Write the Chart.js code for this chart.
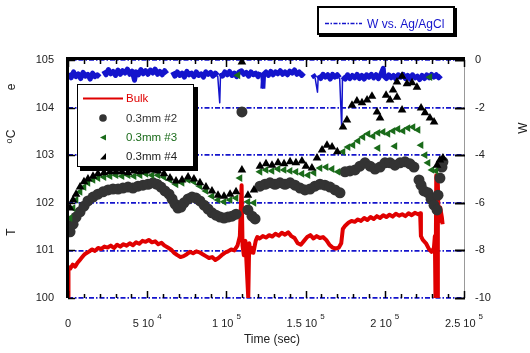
<!DOCTYPE html>
<html lang="en">
<head>
<meta charset="UTF-8">
<title>Temperature and W potential vs time</title>
<style>
  html, body { margin: 0; padding: 0; background: #fff; }
  #chart { display: block; }
</style>
</head>
<body>
<canvas id="chart" width="530" height="353"></canvas>
<script src="https://cdn.jsdelivr.net/npm/chart.js@4/dist/chart.umd.min.js"></script>
<script>
// time values are in units of 1000 sec
const bulkT = [0, 0.3, 1.5, 3, 4.5, 6, 7.5, 9, 10.5, 12, 13.5, 15, 17, 19, 21, 23, 25, 27, 29, 31, 33, 35, 37, 39, 41, 43, 45, 47, 49, 51, 53, 55, 57, 59, 61, 63, 65, 67, 69, 71, 73, 75, 77, 79, 81, 83, 85, 87, 89, 91, 93, 95, 97, 99, 101, 103, 105, 107, 108.5, 109.6, 110.2, 111, 112, 113.8, 114.4, 115.2, 116, 117, 118.5, 119.5, 121, 123, 125, 127, 129, 131, 133, 135, 137, 139, 141, 143, 145, 147, 149, 151, 153, 155, 157, 159, 161, 163, 165, 167, 169, 171, 172.5, 173.5, 175, 177, 179, 181, 183, 185, 187, 189, 191, 193, 195, 197, 199, 201, 203, 205, 207, 209, 211, 213, 215, 217, 219, 221, 222.3, 222.8, 224, 226, 228, 229.5, 231, 231.6, 232, 232.5, 233, 233.5, 234, 235, 236, 236.5];
const bulkV = [100.0, 100.65, 100.62, 100.70, 100.66, 100.74, 100.80, 100.86, 100.92, 100.95, 100.98, 101.02, 100.99, 101.05, 101.03, 101.08, 101.06, 101.10, 101.05, 101.12, 101.08, 101.13, 101.10, 101.15, 101.11, 101.17, 101.14, 101.20, 101.18, 101.22, 101.17, 101.19, 101.13, 101.16, 101.10, 101.06, 101.02, 100.95, 100.90, 100.86, 100.88, 100.92, 100.97, 100.94, 100.98, 100.96, 100.92, 100.88, 100.84, 100.86, 100.80, 100.84, 100.90, 100.95, 100.98, 101.02, 101.00, 101.10, 101.30, 102.37, 101.10, 100.90, 101.20, 100.0, 101.15, 100.95, 101.05, 100.95, 101.20, 101.28, 101.25, 101.30, 101.27, 101.32, 101.29, 101.35, 101.31, 101.37, 101.33, 101.38, 101.30, 101.26, 101.15, 101.12, 101.20, 101.28, 101.32, 101.25, 101.30, 101.26, 101.28, 101.22, 101.12, 101.06, 101.04, 101.06, 101.15, 101.45, 101.52, 101.58, 101.62, 101.60, 101.65, 101.62, 101.68, 101.64, 101.70, 101.66, 101.72, 101.68, 101.74, 101.70, 101.75, 101.71, 101.77, 101.73, 101.76, 101.72, 101.78, 101.74, 101.79, 101.76, 101.78, 101.30, 101.22, 101.15, 101.02, 100.97, 101.05, 101.30, 100.0, 102.58, 100.0, 102.40, 101.60, 101.90, 101.70, 101.55];

const mm2T = [1.3, 3.2, 5.1, 7.6, 10.1, 12.6, 15.8, 18.9, 22.1, 25.3, 28.4, 31.6, 34.7, 37.9, 41.0, 44.2, 47.3, 50.5, 53.7, 56.2, 58.7, 61.2, 63.8, 65.7, 67.6, 69.4, 71.3, 73.2, 75.8, 78.3, 80.8, 83.3, 85.9, 88.4, 90.9, 93.4, 96.0, 98.5, 101.0, 103.5, 106.1, 109.8, 113.6, 116.2, 118.1, 121.2, 124.4, 127.5, 130.7, 133.8, 137.0, 140.2, 143.3, 146.5, 149.6, 152.8, 155.9, 159.1, 162.2, 165.4, 168.6, 171.7, 174.9, 178.0, 181.2, 184.3, 187.5, 190.7, 193.8, 197.0, 200.1, 203.3, 206.4, 209.6, 212.8, 215.9, 218.4, 221.6, 222.9, 224.7, 227.3, 229.2, 231.1, 233.0, 233.6, 234.8, 236.1, 236.7];
const mm2V = [101.39, 101.55, 101.70, 101.81, 101.93, 102.04, 102.12, 102.18, 102.23, 102.27, 102.29, 102.29, 102.31, 102.33, 102.31, 102.35, 102.37, 102.39, 102.42, 102.39, 102.33, 102.25, 102.18, 102.08, 101.97, 101.89, 101.91, 102.00, 102.08, 102.12, 102.10, 102.04, 101.95, 101.87, 101.79, 101.74, 101.70, 101.68, 101.70, 101.72, 101.76, 103.91, 101.85, 101.72, 101.66, 102.35, 102.39, 102.42, 102.39, 102.42, 102.39, 102.42, 102.37, 102.31, 102.27, 102.29, 102.35, 102.39, 102.37, 102.33, 102.27, 102.21, 102.65, 102.67, 102.69, 102.77, 102.84, 102.77, 102.71, 102.75, 102.84, 102.84, 102.79, 102.84, 102.86, 102.82, 102.75, 102.48, 102.37, 102.25, 102.21, 102.08, 101.95, 101.85, 102.16, 102.52, 102.75, 102.86];

const mm3T = [1.3, 3.2, 5.1, 7.6, 10.1, 12.6, 15.8, 18.9, 22.7, 26.5, 30.3, 34.1, 37.9, 41.7, 45.5, 49.2, 53.0, 56.8, 60.6, 64.4, 68.2, 72.0, 75.8, 79.5, 83.3, 87.1, 90.9, 94.7, 98.5, 102.3, 106.1, 107.3, 108.6, 113.6, 117.4, 121.2, 125.0, 128.8, 132.6, 136.4, 140.2, 143.9, 147.7, 151.5, 155.3, 159.1, 162.9, 166.7, 170.5, 173.6, 176.8, 179.9, 183.1, 186.2, 189.4, 192.6, 195.7, 195.7, 198.9, 202.0, 205.2, 206.4, 208.3, 211.5, 214.6, 217.8, 221.0, 222.9, 225.4, 227.3, 228.5, 229.8, 232.3];
const mm3V = [101.68, 101.89, 102.06, 102.23, 102.33, 102.42, 102.48, 102.52, 102.54, 102.56, 102.58, 102.56, 102.58, 102.56, 102.58, 102.61, 102.58, 102.58, 102.54, 102.48, 102.39, 102.42, 102.48, 102.44, 102.35, 102.25, 102.14, 102.06, 102.02, 102.06, 102.10, 104.68, 102.52, 102.02, 102.00, 102.65, 102.69, 102.67, 102.71, 102.69, 102.67, 102.65, 102.61, 102.58, 102.63, 102.73, 102.75, 102.71, 102.65, 103.07, 103.17, 103.21, 103.30, 103.38, 103.45, 103.40, 103.47, 103.15, 103.49, 103.45, 103.51, 103.19, 103.55, 103.51, 103.57, 103.59, 103.53, 103.21, 103.00, 102.84, 104.64, 102.69, 102.67];

const mm4T = [1.3, 3.2, 5.1, 7.6, 10.1, 12.6, 15.8, 18.9, 22.7, 26.5, 30.3, 34.1, 37.9, 41.7, 45.5, 49.2, 53.0, 56.8, 60.6, 64.4, 68.2, 72.0, 75.8, 79.5, 83.3, 87.1, 90.9, 94.7, 98.5, 102.3, 106.1, 109.8, 109.8, 113.6, 117.4, 121.2, 125.0, 128.8, 132.6, 136.4, 140.2, 143.9, 147.7, 150.2, 154.0, 157.2, 160.4, 163.5, 166.7, 170.0, 173.6, 176.1, 179.3, 182.4, 185.6, 188.8, 191.9, 195.1, 197.0, 200.8, 203.3, 205.2, 207.7, 207.7, 210.9, 210.9, 214.0, 217.2, 220.3, 222.9, 225.4, 228.5, 231.1, 233.0, 234.8, 236.7];
const mm4V = [101.89, 102.06, 102.18, 102.33, 102.44, 102.50, 102.56, 102.61, 102.63, 102.65, 102.65, 102.65, 102.63, 102.67, 102.65, 102.67, 102.69, 102.67, 102.61, 102.52, 102.46, 102.48, 102.54, 102.50, 102.42, 102.33, 102.25, 102.16, 102.14, 102.18, 102.23, 102.69, 104.96, 102.16, 102.27, 102.77, 102.82, 102.79, 102.84, 102.82, 102.86, 102.84, 102.88, 102.77, 102.73, 102.94, 103.11, 103.21, 103.17, 103.07, 103.59, 103.74, 104.05, 104.14, 104.10, 104.16, 104.24, 103.91, 103.78, 104.26, 104.16, 104.37, 104.54, 104.22, 104.66, 103.95, 104.50, 104.52, 104.43, 103.99, 103.89, 103.78, 103.70, 102.79, 102.90, 102.94];

const wT = [0.5, 2, 3.5, 5, 6.5, 8, 9.5, 11, 12.5, 14, 15.5, 17, 18.5, 20, 21, 22.5, 24, 25.5, 27, 28.5, 30, 31.5, 33, 34.5, 36, 37.5, 39, 40.5, 42, 43, 44.5, 46, 47.5, 49, 50.5, 52, 53.5, 55, 56.5, 58, 59.5, 61, 62.5, 64, 66, 67.5, 69, 70.5, 72, 73.5, 75, 76.5, 78, 79.5, 81, 82.5, 84, 85.5, 87, 88.5, 90, 91.5, 93, 94.5, 95.8, 96.3, 97.5, 99, 100.5, 102, 103.5, 105, 106.5, 108, 109.5, 111, 112.5, 114, 115.5, 117, 118.5, 120, 121.5, 123, 123.5, 125, 126.5, 128, 129.5, 131, 132.5, 134, 135.5, 137, 138.5, 140, 141.5, 143, 144.5, 146, 147.5, 149, 151, 154.5, 156, 157.5, 158, 159.5, 161, 162.5, 164, 165.5, 167, 168.5, 170, 171.5, 172.8, 173.3, 175, 176.5, 178, 179.5, 181, 182.5, 184, 185.5, 187, 188.5, 190, 191.5, 193, 194.5, 196, 197.5, 199, 199.5, 201, 202.5, 204, 205.5, 207, 208.5, 210, 211.5, 213, 214.5, 216, 217.5, 219, 220.5, 222, 223.5, 225, 226.5, 228, 229.5, 231, 232.5, 234, 235.5];
const wV = [-0.55, -0.75, -0.50, -0.70, -0.58, -0.78, -0.52, -0.68, -0.60, -0.80, -0.55, -0.70, -0.62, -0.72, null, -0.45, -0.62, -0.40, -0.58, -0.48, -0.65, -0.42, -0.60, -0.45, -0.55, -0.38, -0.60, -0.47, -0.85, -0.50, -0.62, -0.40, -0.58, -0.45, -0.60, -0.42, -0.55, -0.38, -0.60, -0.48, -0.62, -0.45, -0.58, null, -0.50, -0.68, -0.50, -0.65, -0.55, -0.72, -0.48, -0.62, -0.55, -0.70, -0.50, -0.65, -0.58, -0.72, -0.50, -0.60, -0.52, -0.68, -0.55, -0.65, -1.80, -0.55, -0.68, -0.50, -0.62, -0.48, -0.65, -0.55, -0.70, -0.50, -0.45, -0.60, -0.52, -0.68, -0.50, -0.62, -0.55, -0.70, -0.52, -1.20, -0.60, -0.50, -0.65, -0.48, -0.62, -0.50, -0.58, -0.45, -0.60, -0.50, -0.62, -0.47, -0.55, -0.42, -0.60, -0.50, -0.65, -0.55, null, -0.60, -0.75, -1.35, -0.65, -0.78, -0.60, -0.72, -0.62, -0.80, -0.60, -0.72, -0.62, -0.75, -2.86, -0.70, -0.80, -0.62, -0.78, -0.65, -0.75, -0.60, -0.78, -0.65, -0.80, -0.62, -0.72, -0.60, -0.75, -0.62, -0.78, -0.60, -0.35, -0.68, -0.78, -0.62, -0.75, -0.65, -0.80, -0.62, -0.72, -0.60, -0.78, -0.65, -0.80, -0.62, -0.75, -0.68, -0.82, -0.65, -0.78, -0.62, -0.75, -0.60, -0.72, -0.62, -0.75, -0.65];

const xTickVals = [0, 50000, 100000, 150000, 200000, 250000];
const xTickMain = ['0', '5 10', '1 10', '1.5 10', '2 10', '2.5 10'];
const xTickExp = ['', '4', '5', '5', '5', '5'];

const RED = '#e00000', BLUE = '#1414cc', GREEN = '#1a6b1a', GRAY = '#333333';
const FONT = '"Liberation Sans", Arial, sans-serif';

function toXY(ts, vs) {
    return ts.map((t, i) => ({ x: t * 1000, y: vs[i] }));
}

// thin strokes for the sharp spikes of the W trace, thick for the noisy band
function spikeWidth(ctx) {
    return Math.abs(ctx.p1.parsed.y - ctx.p0.parsed.y) > 0.6 ? 1.5 : 5;
}

const framePlugin = {
    id: 'frame',
    afterDatasetsDraw(chart) {
        const ctx = chart.ctx;
        const ca = chart.chartArea;
        const x = chart.scales.x, y = chart.scales.y, y2 = chart.scales.y2;
        ctx.save();
        // right border thin gray
        ctx.strokeStyle = '#999';
        ctx.lineWidth = 1;
        ctx.beginPath();
        ctx.moveTo(ca.right + 0.5, ca.top);
        ctx.lineTo(ca.right + 0.5, ca.bottom);
        ctx.stroke();
        // top and left thick black
        ctx.fillStyle = '#000';
        ctx.fillRect(ca.left - 2, ca.top - 3, ca.right - ca.left + 3, 3);
        ctx.fillRect(ca.left - 2, ca.top - 3, 3, ca.bottom - ca.top + 3);
        // x ticks, top and bottom, inward
        ctx.strokeStyle = '#000';
        ctx.lineWidth = 1.5;
        for (let v = 0; v <= 250000; v += 10000) {
            const px = Math.round(x.getPixelForValue(v)) + 0.5;
            const len = v % 50000 === 0 ? 7 : 4;
            ctx.beginPath();
            ctx.moveTo(px, ca.top);
            ctx.lineTo(px, ca.top + len);
            ctx.moveTo(px, ca.bottom);
            ctx.lineTo(px, ca.bottom - len);
            ctx.stroke();
        }
        // left ticks
        for (let v = 100; v <= 105; v += 1) {
            const py = Math.round(y.getPixelForValue(v)) + 0.5;
            ctx.beginPath();
            ctx.moveTo(ca.left, py);
            ctx.lineTo(ca.left + 7, py);
            ctx.stroke();
        }
        // right ticks
        ctx.lineWidth = 2;
        for (let v = -10; v <= 0; v += 2) {
            const py = Math.round(y2.getPixelForValue(v)) + 0.5;
            ctx.beginPath();
            ctx.moveTo(ca.right + 1, py);
            ctx.lineTo(ca.right - 9, py);
            ctx.stroke();
        }
        // x tick labels with exponents
        ctx.fillStyle = '#222';
        ctx.textBaseline = 'alphabetic';
        ctx.textAlign = 'left';
        xTickVals.forEach((v, i) => {
            const px = x.getPixelForValue(v);
            ctx.font = '11px ' + FONT;
            const wm = ctx.measureText(xTickMain[i]).width;
            ctx.font = '8px ' + FONT;
            const we = xTickExp[i] ? ctx.measureText(xTickExp[i]).width + 3 : 0;
            const start = px - (wm + we) / 2;
            ctx.font = '11px ' + FONT;
            ctx.fillText(xTickMain[i], start, 327);
            if (xTickExp[i]) {
                ctx.font = '8px ' + FONT;
                ctx.fillText(xTickExp[i], start + wm + 3, 319);
            }
        });
        // axis titles
        ctx.font = '12px ' + FONT;
        ctx.textAlign = 'center';
        ctx.fillText('Time (sec)', 272, 343);
        const vtext = (txt, cx, cy, rot, size) => {
            ctx.save();
            ctx.translate(cx, cy);
            ctx.rotate(rot);
            ctx.font = size + 'px ' + FONT;
            ctx.textAlign = 'center';
            ctx.textBaseline = 'middle';
            ctx.fillText(txt, 0, 0);
            ctx.restore();
        };
        vtext('e', 12, 87, -Math.PI / 2, 12);
        vtext('C', 12, 134, -Math.PI / 2, 12);
        vtext('o', 10, 141, -Math.PI / 2, 9);
        vtext('T', 12, 232, -Math.PI / 2, 12);
        vtext('W', 524, 128, -Math.PI / 2, 12);

        // top legend box
        ctx.fillStyle = '#000';
        ctx.fillRect(319, 8, 138, 29);
        ctx.fillStyle = '#fff';
        ctx.fillRect(317, 6, 138, 29);
        ctx.strokeStyle = '#000';
        ctx.lineWidth = 2;
        ctx.strokeRect(318, 7, 136, 27);
        ctx.strokeStyle = BLUE;
        ctx.lineWidth = 1.5;
        ctx.setLineDash([4, 1.5, 1.5, 1.5]);
        ctx.beginPath();
        ctx.moveTo(325, 23.5);
        ctx.lineTo(362, 23.5);
        ctx.stroke();
        ctx.setLineDash([]);
        ctx.fillStyle = BLUE;
        ctx.font = '12px ' + FONT;
        ctx.textAlign = 'left';
        ctx.textBaseline = 'alphabetic';
        ctx.fillText('W vs. Ag/AgCl', 367, 28);

        // inner legend box
        ctx.fillStyle = '#000';
        ctx.fillRect(80, 87, 118, 84);
        ctx.fillStyle = '#fff';
        ctx.fillRect(77, 84, 117, 83);
        ctx.strokeStyle = '#000';
        ctx.lineWidth = 1;
        ctx.strokeRect(77.5, 84.5, 116, 82);
        ctx.font = '11.5px ' + FONT;
        ctx.textBaseline = 'middle';
        ctx.strokeStyle = RED;
        ctx.lineWidth = 2;
        ctx.beginPath();
        ctx.moveTo(83, 98.5);
        ctx.lineTo(123, 98.5);
        ctx.stroke();
        ctx.fillStyle = RED;
        ctx.fillText('Bulk', 126, 99);
        // markers
        ctx.fillStyle = GRAY;
        ctx.beginPath();
        ctx.arc(103, 118, 3.8, 0, Math.PI * 2);
        ctx.fill();
        ctx.fillText('0.3mm #2', 126, 118.5);
        ctx.fillStyle = GREEN;
        ctx.beginPath();
        ctx.moveTo(100, 137.5);
        ctx.lineTo(106, 134.5);
        ctx.lineTo(106, 140.5);
        ctx.closePath();
        ctx.fill();
        ctx.fillText('0.3mm #3', 126, 137.5);
        ctx.fillStyle = '#000';
        ctx.beginPath();
        ctx.moveTo(106, 153);
        ctx.lineTo(106, 159.5);
        ctx.lineTo(100, 159.5);
        ctx.closePath();
        ctx.fill();
        ctx.fillStyle = '#222';
        ctx.fillText('0.3mm #4', 126, 156.5);
        ctx.restore();
    }
};

new Chart(document.getElementById('chart'), {
    type: 'scatter',
    data: {
        datasets: [
            {
                label: 'W vs. Ag/AgCl', data: toXY(wT, wV), yAxisID: 'y2',
                showLine: true, borderColor: BLUE, borderWidth: 5, pointRadius: 0,
                borderJoinStyle: 'round', spanGaps: false, order: 5,
                segment: { borderWidth: spikeWidth }
            },
            {
                label: 'Bulk', data: toXY(bulkT, bulkV), yAxisID: 'y',
                showLine: true, borderColor: RED, borderWidth: 4, pointRadius: 0,
                borderJoinStyle: 'round', order: 4
            },
            {
                label: '0.3mm #2', data: toXY(mm2T, mm2V), yAxisID: 'y',
                pointStyle: 'circle', pointRadius: 5.5, backgroundColor: GRAY,
                borderColor: GRAY, borderWidth: 0, order: 3
            },
            {
                label: '0.3mm #3', data: toXY(mm3T, mm3V), yAxisID: 'y',
                pointStyle: 'triangle', rotation: -90, pointRadius: 4.5,
                backgroundColor: GREEN, borderColor: GREEN, borderWidth: 0, order: 2
            },
            {
                label: '0.3mm #4', data: toXY(mm4T, mm4V), yAxisID: 'y',
                pointStyle: 'triangle', pointRadius: 5, backgroundColor: '#000',
                borderColor: '#000', borderWidth: 0, order: 1
            }
        ]
    },
    options: {
        responsive: false,
        animation: false,
        devicePixelRatio: 1,
        layout: { padding: { top: 60, left: 0, right: 0, bottom: 0 } },
        plugins: { legend: { display: false }, tooltip: { enabled: false } },
        scales: {
            x: {
                type: 'linear', min: 0, max: 250000,
                grid: { display: false }, border: { display: false },
                ticks: { display: false },
                afterFit: s => { s.height = 55; }
            },
            y: {
                position: 'left', min: 100, max: 105,
                ticks: { stepSize: 1, color: '#222', padding: 14, font: { size: 11, family: FONT } },
                grid: { color: BLUE, lineWidth: 1.8, drawTicks: false, tickLength: 0 },
                border: { display: false, dash: [5, 2, 1.5, 2] },
                afterFit: s => { s.width = 68; }
            },
            y2: {
                position: 'right', min: -10, max: 0,
                ticks: { stepSize: 2, color: '#222', padding: 11, font: { size: 11, family: FONT } },
                grid: { display: false, drawTicks: false, tickLength: 0 },
                border: { display: false },
                afterFit: s => { s.width = 66; }
            }
        }
    },
    plugins: [framePlugin]
});
</script>
</body>
</html>
